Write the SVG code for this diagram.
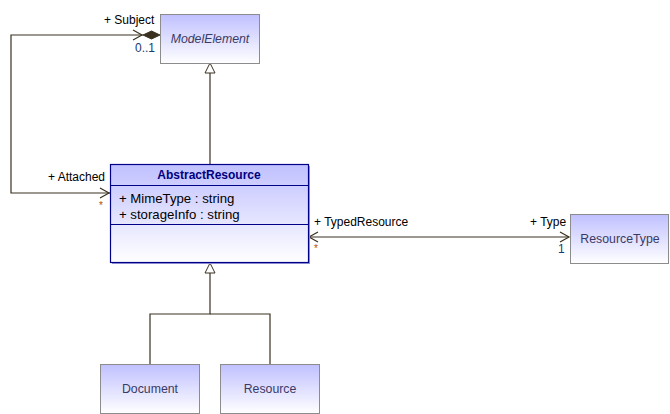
<svg xmlns="http://www.w3.org/2000/svg" width="670" height="414" viewBox="0 0 670 414">
<defs>
<linearGradient id="g" x1="0" y1="0" x2="0" y2="1">
<stop offset="0" stop-color="#c0c0ff"/>
<stop offset="1" stop-color="#ffffff"/>
</linearGradient>
<style>
.box{fill:url(#g);stroke:#8c8c8c;stroke-width:1}
.abs{fill:url(#g);stroke:#000088;stroke-width:1.2}
.ln{fill:none;stroke:#3a3020;stroke-width:1.2}
.t{font-family:"Liberation Sans",Arial,sans-serif;font-size:12px;fill:#000000}
.a{font-family:"Liberation Sans",Arial,sans-serif;font-size:13.2px;fill:#000000}
.n{font-family:"Liberation Sans",Arial,sans-serif;font-size:12.3px;fill:#3a3a66;text-anchor:middle}
.m{font-family:"Liberation Sans",Arial,sans-serif;font-size:12px;fill:#1a3a70}
.s{font-family:"Liberation Sans",Arial,sans-serif;font-size:10px;fill:#b05000}
</style>
</defs>
<rect width="670" height="414" fill="#ffffff"/>
<g id="connectors">
<polyline class="ln" points="143,35 11,35 11,193 110,193"/>
<polygon points="143,35 151.5,31 160,35 151.5,39" fill="#3a3020" stroke="#3a3020" stroke-width="1"/>
<polyline class="ln" points="133,30 142,35 133,40"/>
<polyline class="ln" points="100,188 109,193 100,198"/>
<line class="ln" x1="210" y1="73" x2="210" y2="164"/>
<polygon points="205,73 215,73 210,63" fill="#ffffff" stroke="#3a3020" stroke-width="1"/>
<line class="ln" x1="309" y1="237" x2="569" y2="237"/>
<polyline class="ln" points="318,232 309,237 318,242"/>
<polyline class="ln" points="560,232 569,237 560,242"/>
<polyline class="ln" points="210,273 210,314 150,314 150,364"/>
<polyline class="ln" points="210,314 270,314 270,364"/>
<polygon points="205,273 215,273 210,263" fill="#ffffff" stroke="#3a3020" stroke-width="1"/>
</g>
<g id="labels">
<text class="t" x="104" y="24">+ Subject</text>
<text class="m" x="135" y="52">0..1</text>
<text class="t" x="48" y="181">+ Attached</text>
<text class="s" x="99" y="209">*</text>
<text class="t" x="314" y="226">+ TypedResource</text>
<text class="s" x="314" y="252">*</text>
<text class="t" x="530" y="226">+ Type</text>
<text class="m" x="558" y="253">1</text>
</g>
<g id="ModelElement">
<rect class="box" x="160.5" y="14.5" width="99" height="49"/>
<text class="n" x="210" y="43" font-style="italic">ModelElement</text>
</g>
<g id="AbstractResource">
<rect x="112" y="166" width="198" height="98" fill="#9898d8"/>
<rect class="abs" x="110.5" y="164.5" width="198" height="98"/>
<line x1="110.5" y1="185.5" x2="308.5" y2="185.5" stroke="#000088" stroke-width="1.2"/>
<line x1="110.5" y1="224.5" x2="308.5" y2="224.5" stroke="#000088" stroke-width="1.2"/>
<text x="209" y="179" font-family="Liberation Sans,Arial,sans-serif" font-size="12" font-weight="bold" fill="#000080" text-anchor="middle">AbstractResource</text>
<text class="a" x="119" y="203">+ MimeType : string</text>
<text class="a" x="119" y="219">+ storageInfo : string</text>
</g>
<g id="ResourceType">
<rect class="box" x="570.5" y="214.5" width="98" height="49"/>
<text class="n" x="620" y="243">ResourceType</text>
</g>
<g id="Document">
<rect class="box" x="100.5" y="364.5" width="99" height="49"/>
<text class="n" x="150" y="393">Document</text>
</g>
<g id="Resource">
<rect class="box" x="220.5" y="364.5" width="99" height="49"/>
<text class="n" x="270" y="393">Resource</text>
</g>
</svg>
